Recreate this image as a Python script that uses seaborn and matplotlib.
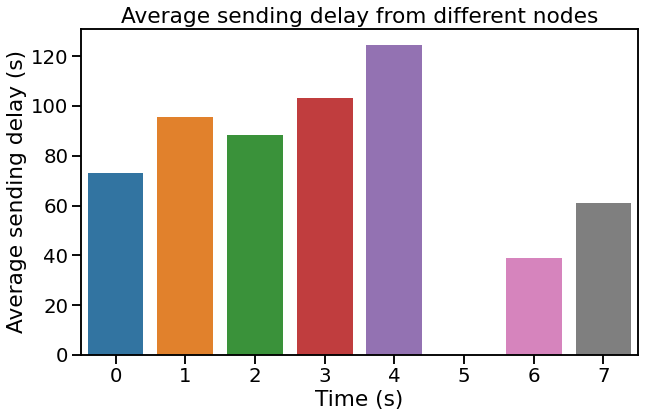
import numpy as np
import matplotlib
matplotlib.use('Agg')
import matplotlib.pyplot as plt
import pandas as pd
import seaborn as sns

# average sending delay per node
nodes = [0, 1, 2, 3, 4, 5, 6, 7]
delays = [73.0, 95.5, 88.3, 103.2, 124.5, 0.0, 38.9, 61.0]

df = pd.DataFrame({'Time (s)': nodes, 'Average sending delay (s)': delays})

sns.set_context('talk', font_scale=1.2)

fig = plt.figure(figsize=(646 / 72, 418 / 72), dpi=72)
ax = fig.add_axes([0.125, 0.151, 0.863, 0.780])
sns.barplot(data=df, x='Time (s)', y='Average sending delay (s)', hue='Time (s)',
            palette='tab10', legend=False, ax=ax)
ax.set_title('Average sending delay from different nodes')
ax.set_ylim(0, 131)

fig.savefig('out.png', dpi=72)
